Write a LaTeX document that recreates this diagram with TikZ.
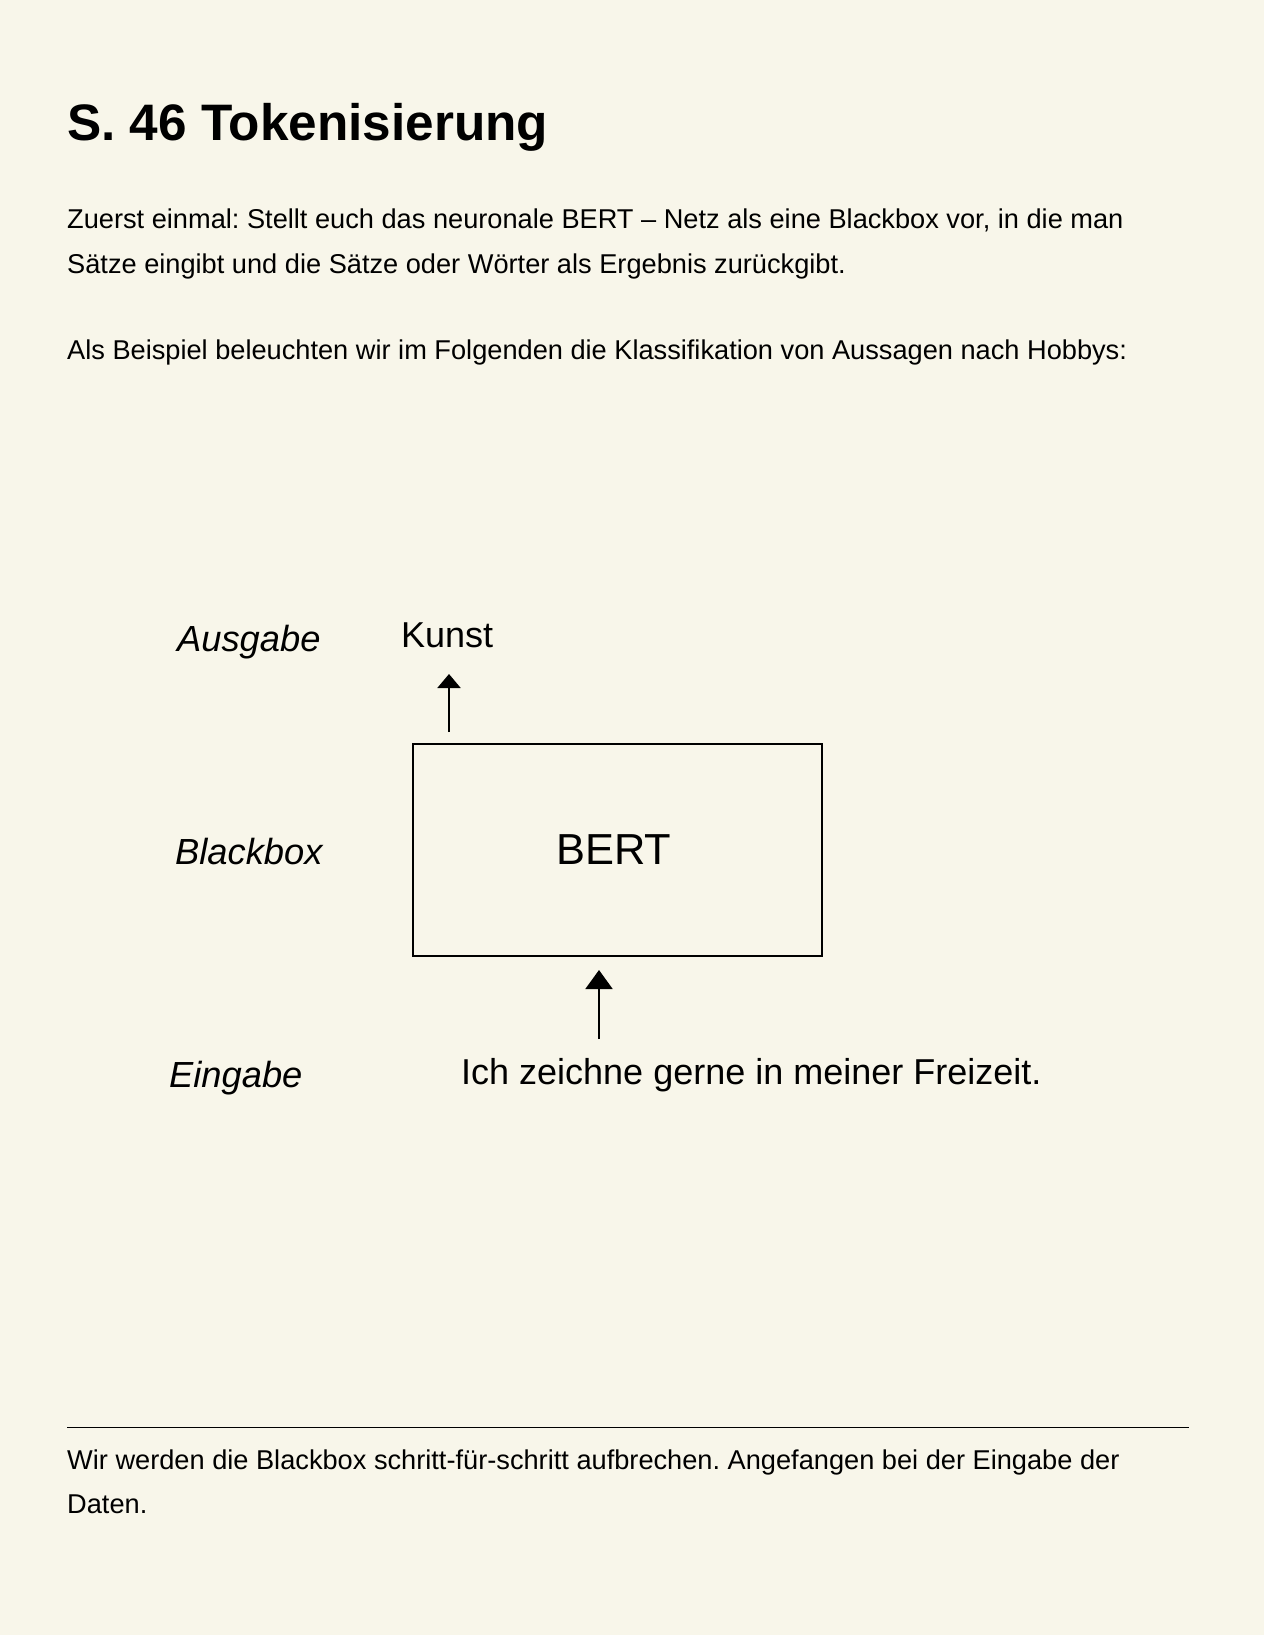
\documentclass[tikz,border=0pt]{standalone}
\usepackage{fontspec}
\setmainfont{Liberation Sans}
\usepackage{tikz}
\usetikzlibrary{arrows.meta,
    positioning}

\definecolor{papier}{RGB}{248,246,234}
\frenchspacing

\tikzset{
    fliess/.style={anchor=base west, inner sep=0pt, font=\fontsize{27.2}{30}\selectfont},
    etikett/.style={anchor=base west, inner sep=0pt, font=\fontsize{36.3}{40}\selectfont\itshape},
    wort/.style={anchor=base west, inner sep=0pt, font=\fontsize{36}{40}\selectfont},
    kasten/.style={draw, line width=2pt, minimum width=409pt, minimum height=212pt,
        inner sep=0pt, font=\fontsize{43.4}{50}\selectfont},
    pfeil/.style={line width=2pt, -{Triangle[width=23pt,length=14pt]}},
    grosspfeil/.style={line width=2pt, -{Triangle[width=27pt,length=19pt]}}
}

\begin{document}
\begin{tikzpicture}[x=1pt,y=-1pt]
                  \useasboundingbox[fill=papier] (0,0) rectangle (1264,1635);
                  \node[anchor=base west, inner sep=0pt, font=\fontsize{51.3}{60}\selectfont\bfseries] (titel) at (67,141) {S. 46 Tokenisierung};
                  \node[fliess] (intro1) at (67,228) {Zuerst einmal: Stellt euch das neuronale BERT -- Netz als eine Blackbox vor, in die man};
                  \node[fliess] (intro2) at (67,273) {Sätze eingibt und die Sätze oder Wörter als Ergebnis zurückgibt.};
                  \node[fliess] (beispiel) at (67,359) {Als Beispiel beleuchten wir im Folgenden die Klassifikation von Aussagen nach Hobbys:};
                  \node[etikett] (ausgabe) at (177,651) {Ausgabe};
                  \node[etikett] (blackbox) at (175,864) {Blackbox};
                  \node[etikett] (eingabe) at (169,1087) {Eingabe};
                  \node[wort] (kunst) at (401,647) {Kunst};
                  \node[kasten] (bert) at (617.5,850) {BERT\kern7pt};
                  \node[wort] (satz) at (461,1084) {Ich zeichne gerne in meiner Freizeit.};
                  \coordinate (aus) at (449,674);
                  \coordinate (ein) at (599,1039);
                  \draw[pfeil] (bert.north west -| aus) ++(0,-11) -- (aus);
                  \draw[grosspfeil] (ein) -- ([yshift=-13pt]bert.south -| ein);
                  \coordinate (linie1) at (67,1427);
                  \coordinate (linie2) at (1189,1427);
                  \draw[line width=1pt] (linie1) -- (linie2);
                  \node[fliess] (schluss1) at (67,1469) {Wir werden die Blackbox schritt-für-schritt aufbrechen. Angefangen bei der Eingabe der};
                  \node[fliess] (schluss2) at (67,1513) {Daten.};
              \end{tikzpicture}
\end{document}
